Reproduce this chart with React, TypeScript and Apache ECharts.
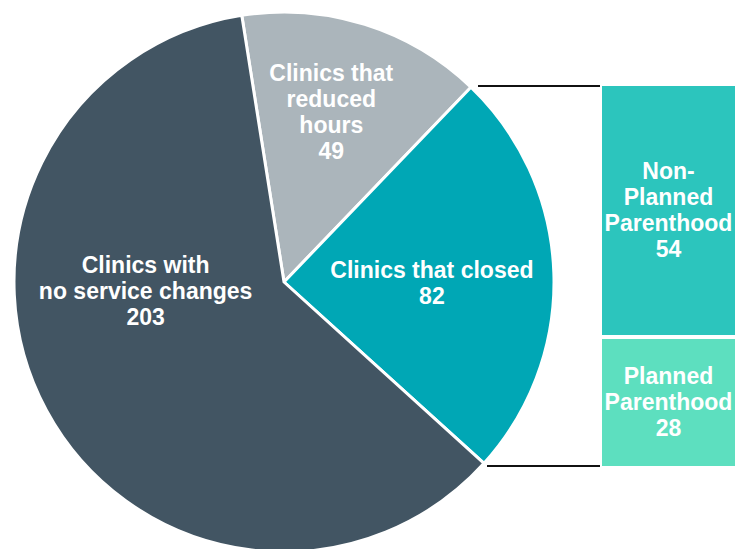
import React, { useEffect, useRef } from "react";
import * as echarts from "echarts";

const pieNames = ["Clinics that\nreduced\nhours", "Clinics that closed", "Clinics with\nno service changes"];
const pieValues = [49, 82, 203];
const pieColors = ["#abb5bb", "#00a7b5", "#425563"];

const splitNames = ["Non-\nPlanned\nParenthood", "Planned\nParenthood"];
const splitValues = [54, 28];
const splitColors = ["#2cc5bd", "#5ddfbf"];

const closedCategory = ["Clinics that closed"];

export default function App() {
  const ref = useRef<HTMLDivElement>(null);
  useEffect(() => {
    if (!ref.current) return;
    const chart = echarts.init(ref.current, null, { renderer: "svg" });
    const font = '"Liberation Sans", Arial, Helvetica, sans-serif';
    const offsets = [[6, -38], [10, 6], [-17, -57]];
    const splitTotal = splitValues.reduce((a, b) => a + b, 0);
    chart.setOption({
      animation: false,
      backgroundColor: "#ffffff",
      grid: { left: 600, top: 84, width: 137, height: 384 },
      xAxis: { type: "category", data: closedCategory, show: false },
      yAxis: { type: "value", min: 0, max: splitTotal, inverse: true, show: false },
      series: [
        {
          type: "pie",
          center: [284, 282],
          radius: 270,
          startAngle: 99,
          clockwise: true,
          label: {
            show: true,
            position: "inside",
            color: "#ffffff",
            fontFamily: font,
            fontWeight: "bold",
            fontSize: 23,
            lineHeight: 26,
            align: "center",
            formatter: (p: any) => `${p.name}\n${p.value}`,
          },
          labelLine: { show: false },
          itemStyle: { borderColor: "#ffffff", borderWidth: 3 },
          data: pieNames.map((n, i) => ({
            name: n,
            value: pieValues[i],
            itemStyle: { color: pieColors[i] },
            label: { offset: offsets[i] },
          })),
        },
        ...splitNames.map((n, i) => ({
          type: "bar",
          name: n,
          stack: "closed",
          barWidth: "100%",
          data: [splitValues[i]],
          itemStyle: { color: splitColors[i], borderColor: "#ffffff", borderWidth: 2 },
          label: {
            show: true,
            position: "inside",
            color: "#ffffff",
            fontFamily: font,
            fontWeight: "bold",
            fontSize: 23,
            lineHeight: 26,
            align: "center",
            formatter: (p: any) => `${n}\n${p.value}`,
          },
        })),
      ],
      graphic: [
        { type: "line", shape: { x1: 478, y1: 86, x2: 601, y2: 86 }, style: { stroke: "#111111", lineWidth: 2 } },
        { type: "line", shape: { x1: 487, y1: 466, x2: 601, y2: 466 }, style: { stroke: "#111111", lineWidth: 2 } },
      ],
    });
    return () => chart.dispose();
  }, []);
  return (
    <div
      ref={ref}
      style={{ position: "fixed", left: 0, top: 0, width: 743, height: 549 }}
    />
  );
}
